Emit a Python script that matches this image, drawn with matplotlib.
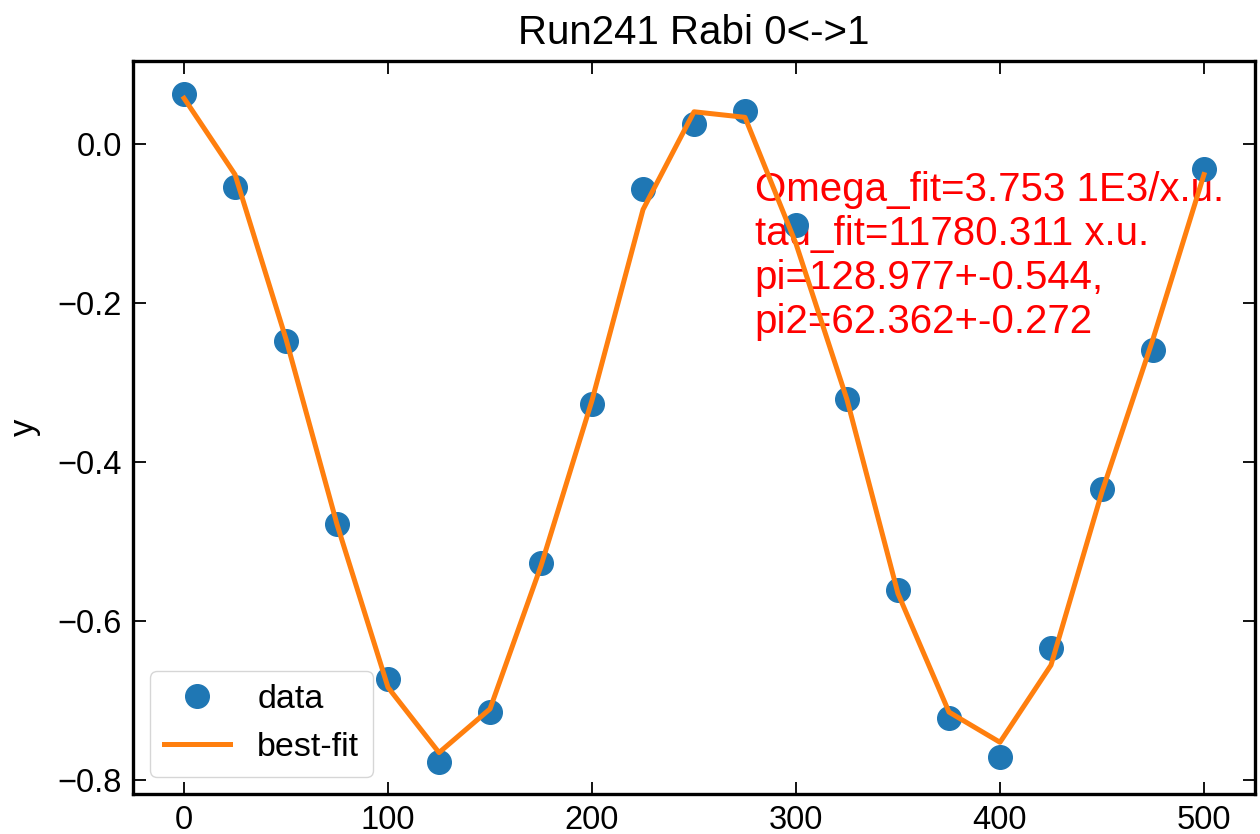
import numpy as np
import matplotlib
matplotlib.use('Agg')
import matplotlib.pyplot as plt

# ---------------- data ----------------
x_data = [0, 25, 50, 75, 100, 125, 150, 175, 200, 225, 250,
          275, 300, 325, 350, 375, 400, 425, 450, 475, 500]
y_data = [0.063, -0.053, -0.247, -0.478, -0.673, -0.777, -0.714, -0.526, -0.326, -0.056, 0.025,
          0.042, -0.101, -0.320, -0.561, -0.721, -0.771, -0.634, -0.433, -0.258, -0.031]
y_fit = [0.058, -0.038, -0.245, -0.478, -0.683, -0.765, -0.710, -0.530, -0.322, -0.082, 0.041,
         0.034, -0.125, -0.321, -0.565, -0.714, -0.752, -0.655, -0.437, -0.245, -0.038]

title = 'Run241 Rabi 0<->1'
fit_text = ('Omega_fit=3.753 1E3/x.u.\n'
            'tau_fit=11780.311 x.u.\n'
            'pi=128.977+-0.544,\n'
            'pi2=62.362+-0.272')

plt.rcParams['font.family'] = ['Liberation Sans', 'DejaVu Sans']
fs = 23.5

fig = plt.figure(figsize=(12.6, 8.34), dpi=100)
ax = fig.add_axes([0.1056, 0.048, 0.8904, 0.879])

ax.plot(x_data, y_data, 'o', color='#1f77b4', markersize=17, label='data')
ax.plot(x_data, y_fit, '-', color='#ff7f0e', linewidth=3.6, label='best-fit')

# fit summary, drawn under the curves like in the original
ax.text(0.554, 0.850, fit_text, transform=ax.transAxes, color='red',
        fontsize=29, va='top', ha='left', zorder=1, linespacing=1.2)

ax.set_xlim(-25, 525)
ax.set_ylim(-0.817, 0.105)
ax.set_xticks([0, 100, 200, 300, 400, 500])
ax.set_yticks([0.0, -0.2, -0.4, -0.6, -0.8])

ax.tick_params(direction='in', top=True, right=True, length=9, width=1.3,
               labelsize=fs, pad=8)
for s in ax.spines.values():
    s.set_linewidth(2.4)

ax.set_ylabel('y', fontsize=25, labelpad=12)
ax.set_title(title, fontsize=29, pad=12)

ax.legend(loc='lower left', fontsize=24.5, borderaxespad=0.5, handlelength=1.95)

fig.savefig('out.png', dpi=100)
